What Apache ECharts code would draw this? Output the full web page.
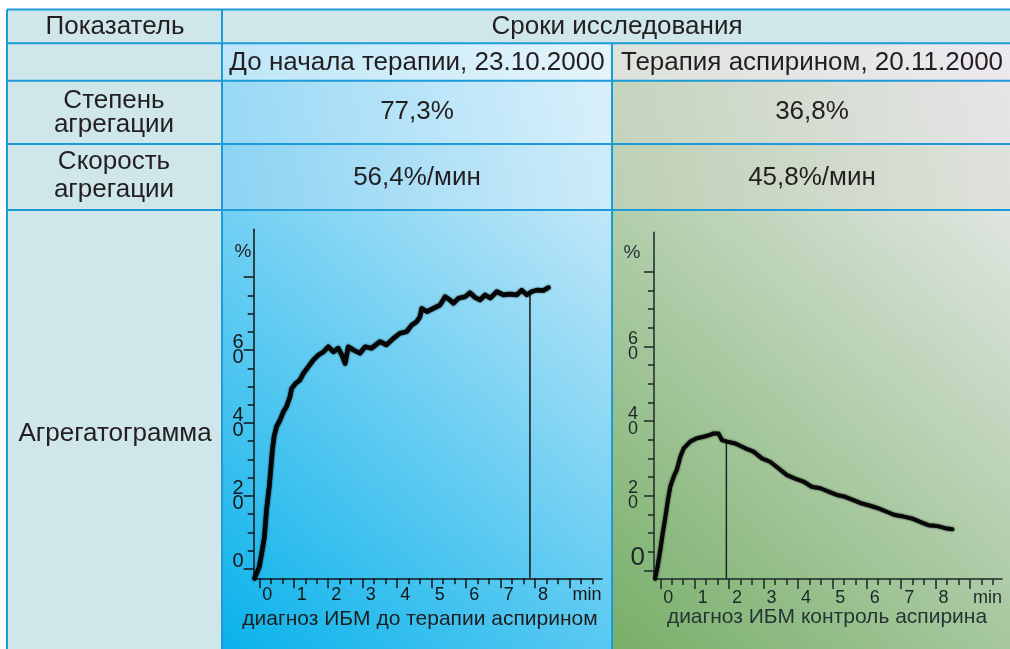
<!DOCTYPE html>
<html><head><meta charset="utf-8">
<script src="https://cdn.jsdelivr.net/npm/echarts@6/dist/echarts.min.js"></script>
<style>html,body{margin:0;padding:0;background:#fff;overflow:hidden}#c{width:1010px;height:649px}</style>
</head><body><div id="c"></div>
<script>
// ---------- data ----------
const headIndicator = 'Показатель';
const headPeriod = 'Сроки исследования';
const periods = ['До начала терапии, 23.10.2000', 'Терапия аспирином, 20.11.2000'];
const rowDegree = ['Степень', 'агрегации'];
const rowSpeed = ['Скорость', 'агрегации'];
const rowGram = 'Агрегатограмма';
const degreeValues = ['77,3%', '36,8%'];
const speedValues = ['56,4%/мин', '45,8%/мин'];
const subtitles = ['диагноз ИБМ до терапии аспирином', 'диагноз ИБМ контроль аспирина'];

const minutes1 = [-0.14, 0, 0.07, 0.15, 0.21, 0.29, 0.34, 0.38,
  0.43, 0.5, 0.6, 0.7, 0.79, 0.89, 0.94, 1.06,
  1.18, 1.28, 1.42, 1.57, 1.71, 1.86, 2.0, 2.15,
  2.29, 2.4, 2.49, 2.58, 2.73, 2.92, 3.07, 3.26,
  3.5, 3.69, 3.89, 4.08, 4.27, 4.42, 4.57, 4.66,
  4.71, 4.86, 5.05, 5.24, 5.39, 5.53, 5.63, 5.78,
  5.97, 6.11, 6.26, 6.4, 6.55, 6.7, 6.89, 7.08,
  7.27, 7.47, 7.61, 7.76, 7.9, 8.05, 8.24, 8.39];
const aggr1 = [-2.6, 0.6, 4.3, 8.9, 16.2, 22.6, 28, 32.6,
  36.3, 39, 40.8, 43.1, 44.5, 47.2, 49.5, 50.9,
  51.8, 53.6, 55.4, 57.3, 58.6, 59.5, 60.9, 59.5,
  60.5, 58.5, 56.3, 60.9, 60, 59.1, 60.9, 60.5,
  62.3, 61.4, 63.2, 64.6, 65, 66.8, 67.8, 69.1,
  71.4, 70.5, 71.4, 72.3, 74.6, 73.7, 72.8, 74.2,
  74.6, 75.7, 74.4, 73.7, 75.1, 74.2, 76, 75.1,
  75.3, 75.1, 76.4, 75.1, 76, 76.4, 76.3, 77.1];
const marker1 = [7.85, 75.1];

const minutes2 = [-0.15, -0.08, 0, 0.07, 0.15, 0.22, 0.29, 0.39,
  0.48, 0.58, 0.68, 0.87, 1.06, 1.26, 1.45, 1.55,
  1.69, 1.79, 1.94, 2.18, 2.47, 2.71, 2.95, 3.19,
  3.44, 3.68, 3.92, 4.16, 4.4, 4.65, 4.89, 5.13,
  5.37, 5.61, 5.86, 6.1, 6.34, 6.58, 6.82, 7.07,
  7.31, 7.55, 7.79, 8.03, 8.28, 8.49];
const aggr2 = [-2.3, 1.0, 5.4, 9.9, 14.4, 18.8, 22.4, 25.1,
  26.9, 30.4, 32.7, 34.5, 35.4, 35.8, 36.3, 36.7,
  36.7, 34.9, 34.5, 34.0, 32.7, 31.8, 30.0, 29.1,
  27.3, 25.5, 24.6, 23.8, 22.4, 22.0, 21.1, 20.2,
  19.7, 18.8, 17.9, 17.3, 16.6, 15.7, 14.8, 14.4,
  13.9, 13.0, 12.1, 11.9, 11.3, 11.0];
const marker2 = [1.92, 34.5];

const xLabelValues = [0, 1, 2, 3, 4, 5, 6, 7, 8, 9];
const xLabelTexts = ['0', '1', '2', '3', '4', '5', '6', '7', '8', 'min'];
const yLabelValues = [0, 20, 40, 60];
const yMajorTicks = [0, 20, 40, 60, 80];
const yMinorTicks = [5, 10, 15, 25, 30, 35, 45, 50, 55, 65, 70, 75];
const xMinorTicks = [];
for (let k = 1; k < 30; k++) if (k % 3) xMinorTicks.push(k / 3);

// ---------- layout ----------
const FONT = "'Liberation Sans', Arial, sans-serif";
const colX = [7, 222, 612, 1014];
const rowY = [9.5, 43.3, 80.7, 144, 210, 660];
const TXT = '#231f20';
const BORDER = '#1d9bd8';
const TS = 26;

function lg(x, y, x2, y2, c1, c2) {
  return new echarts.graphic.LinearGradient(x, y, x2, y2, [{offset: 0, color: c1}, {offset: 1, color: c2}]);
}
function rect(x1, y1, x2, y2, fill) {
  return {type: 'rect', z: -10, silent: true, shape: {x: x1, y: y1, width: x2 - x1, height: y2 - y1}, style: {fill: fill}};
}
function line(x1, y1, x2, y2) {
  return {type: 'line', z: 50, silent: true, shape: {x1, y1, x2, y2}, style: {stroke: BORDER, lineWidth: 2}};
}
function text(str, x, y, size, color, align) {
  return {type: 'text', z: 50, silent: true, x: x, y: y,
    style: {text: str, fill: color || TXT, fontSize: size, fontFamily: FONT,
      align: align || 'center', verticalAlign: 'middle', textAlign: align || 'center', textVerticalAlign: 'middle'}};
}

const graphics = [
  rect(colX[0], rowY[0], colX[1], rowY[5], '#cfe7eb'),
  rect(colX[1], rowY[0], colX[3], rowY[1], '#cfe7eb'),
  rect(colX[1], rowY[1], colX[2], rowY[2], lg(0, 0, 1, 0, '#bde6f8', '#e4f4fb')),
  rect(colX[2], rowY[1], colX[3], rowY[2], lg(0, 0, 1, 0, '#dde2db', '#ece9ef')),
  rect(colX[1], rowY[2], colX[2], rowY[3], lg(0, 1, 1, 0, '#97d8f5', '#d9f0fb')),
  rect(colX[1], rowY[3], colX[2], rowY[4], lg(0, 1, 1, 0, '#8bd3f3', '#cfecf9')),
  rect(colX[2], rowY[2], colX[3], rowY[3], lg(0, 1, 1, 0, '#c4d4bc', '#e6e5e7')),
  rect(colX[2], rowY[3], colX[3], rowY[4], lg(0, 1, 1, 0, '#bdd0b4', '#e0e2dd')),
  rect(colX[1], rowY[4], colX[2], rowY[5], lg(0, 1, 1, 0, '#06b1eb', '#c2e7f8')),
  rect(colX[2], rowY[4], colX[3], rowY[5], lg(0, 1, 1, 0, '#76ae66', '#e0e6e1')),
  line(colX[0], rowY[0], colX[3], rowY[0]),
  line(colX[0], rowY[1], colX[3], rowY[1]),
  line(colX[0], rowY[2], colX[3], rowY[2]),
  line(colX[0], rowY[3], colX[3], rowY[3]),
  line(colX[0], rowY[4], colX[3], rowY[4]),
  line(colX[0], rowY[0], colX[0], rowY[5]),
  line(colX[1], rowY[0], colX[1], rowY[5]),
  line(colX[2], rowY[1], colX[2], rowY[5]),
  text(headIndicator, 115, 27, TS),
  text(headPeriod, 617, 27, TS),
  text(periods[0], 417, 63, TS),
  text(periods[1], 812, 63, TS),
  text(rowDegree[0], 114, 101, TS),
  text(rowDegree[1], 114, 125, TS),
  text(degreeValues[0], 417, 112, TS),
  text(degreeValues[1], 812, 112, TS),
  text(rowSpeed[0], 114, 162, TS),
  text(rowSpeed[1], 114, 190, TS),
  text(speedValues[0], 417, 178, TS),
  text(speedValues[1], 812, 178, TS),
  text(rowGram, 115, 434, TS),
  text('%', 243, 252, 19, '#222'),
  text('%', 632, 253, 19, '#243535'),
  text(subtitles[0], 420, 619, 21, '#1e1e1e'),
  text(subtitles[1], 827, 617, 21, '#243535')
];

// ---------- axes ----------
const grids = [
  {left: 253.7, top: 229.3, width: 348.3, height: 349},
  {left: 654, top: 232.3, width: 348, height: 346.7}
];
const xRange = [[-0.162, 9.94], [-0.183, 9.93]];
const yRange = [[-2.55, 93.07], [-2.33, 90.6]];
const axisCol = ['#151515', '#1c2828'];

function digitsStack(v) { return String(v).split('').map(d => '{n|' + d + '}').join('\n'); }

const xAxes = [], yAxes = [];
[0, 1].forEach(g => {
  const c = axisCol[g];
  xAxes.push({type: 'value', gridIndex: g, position: 'bottom', min: xRange[g][0], max: xRange[g][1],
    axisLine: {show: true, onZero: false, lineStyle: {color: c, width: 1.5}},
    splitLine: {show: false},
    axisTick: {show: true, customValues: xLabelValues, length: 10, lineStyle: {color: c, width: 1.5}},
    axisLabel: {show: true, customValues: xLabelValues, align: 'left', padding: [0, 0, 0, 3],
      margin: g === 0 ? 8 : 10, color: c, fontSize: 18, fontFamily: FONT,
      formatter: v => xLabelTexts[xLabelValues.indexOf(Math.round(v))]}
  });
  xAxes.push({type: 'value', gridIndex: g, position: 'bottom', min: xRange[g][0], max: xRange[g][1],
    axisLine: {show: false, onZero: false}, splitLine: {show: false},
    axisTick: {show: true, customValues: xMinorTicks, length: 6, lineStyle: {color: c, width: 1.5}},
    axisLabel: {show: false}
  });
  const rich = g === 0
    ? {n: {fontSize: 20, lineHeight: 15.5, fontFamily: FONT, color: c},
       z: {fontSize: 20, lineHeight: 15.5, fontFamily: FONT, color: c, padding: [0, 0, 15, 0]}}
    : {n: {fontSize: 18, lineHeight: 15, fontFamily: FONT, color: c, padding: [0, 7, 0, 0]},
       z: {fontSize: 26, lineHeight: 24, fontFamily: FONT, color: c, padding: [0, 0, 24, 0]}};
  yAxes.push({type: 'value', gridIndex: g, position: 'left', min: yRange[g][0], max: yRange[g][1],
    axisLine: {show: true, onZero: false, lineStyle: {color: c, width: 1.5}},
    splitLine: {show: false},
    axisTick: {show: true, customValues: yMajorTicks, length: 10, lineStyle: {color: c, width: 1.5}},
    axisLabel: {show: true, customValues: yLabelValues, margin: g === 0 ? 10 : 9, rich: rich,
      formatter: v => (Math.round(v) === 0 ? '{z|0}' : digitsStack(Math.round(v)))}
  });
  yAxes.push({type: 'value', gridIndex: g, position: 'left', min: yRange[g][0], max: yRange[g][1],
    axisLine: {show: false, onZero: false}, splitLine: {show: false},
    axisTick: {show: true, customValues: yMinorTicks, length: 6, lineStyle: {color: c, width: 1.5}},
    axisLabel: {show: false}
  });
});

function pairs(xs, ys) { return xs.map((x, i) => [x, ys[i]]); }
const traceStyle1 = {color: '#060606', width: 4.6, join: 'round', cap: 'round', shadowBlur: 2, shadowColor: 'rgba(0,0,0,0.85)'};
const traceStyle2 = {color: '#080808', width: 4, join: 'round', cap: 'round', shadowBlur: 2, shadowColor: 'rgba(0,0,0,0.85)'};

const series = [
  {type: 'line', xAxisIndex: 0, yAxisIndex: 0, data: [[marker1[0], yRange[0][0]], [marker1[0], marker1[1]]],
    showSymbol: false, clip: false, lineStyle: {color: '#151515', width: 1.5}, silent: true, z: 5},
  {type: 'line', xAxisIndex: 0, yAxisIndex: 0, data: pairs(minutes1, aggr1),
    showSymbol: false, clip: false, lineStyle: traceStyle1, silent: true, z: 6},
  {type: 'line', xAxisIndex: 2, yAxisIndex: 2, data: [[marker2[0], yRange[1][0]], [marker2[0], marker2[1]]],
    showSymbol: false, clip: false, lineStyle: {color: '#1c2828', width: 1.5}, silent: true, z: 5},
  {type: 'line', xAxisIndex: 2, yAxisIndex: 2, data: pairs(minutes2, aggr2),
    showSymbol: false, clip: false, lineStyle: traceStyle2, silent: true, z: 6}
];

const chart = echarts.init(document.getElementById('c'), null, {renderer: 'canvas'});
chart.setOption({
  animation: false,
  backgroundColor: '#ffffff',
  grid: grids,
  xAxis: xAxes,
  yAxis: yAxes,
  series: series,
  graphic: graphics
});
</script></body></html>
